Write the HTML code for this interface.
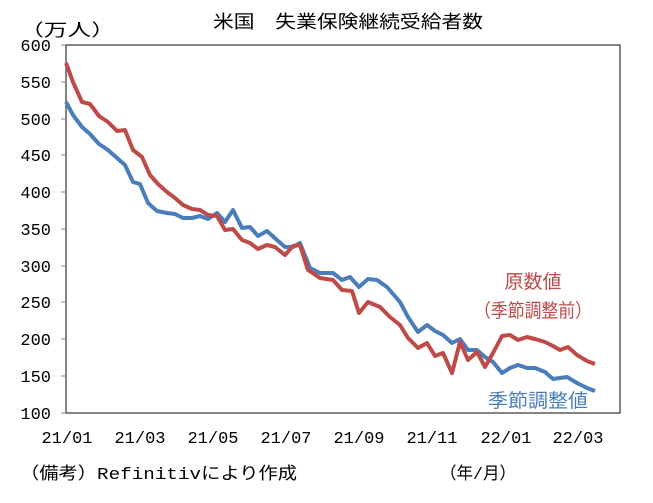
<!DOCTYPE html>
<html><head><meta charset="utf-8"><style>
body{margin:0;background:#fff;}
svg text{font-family:"Liberation Mono","Noto Sans CJK JP",monospace;}
</style></head><body>
<svg width="653" height="498" viewBox="0 0 653 498" xmlns="http://www.w3.org/2000/svg">
<rect width="653" height="498" fill="#fff"/>
<text x="213" y="28" font-size="18" textLength="270" lengthAdjust="spacingAndGlyphs" fill="#000">米国　失業保険継続受給者数</text>
<text x="20" y="36" font-size="17" textLength="95" lengthAdjust="spacingAndGlyphs" fill="#000">（万人）</text>
<rect x="66" y="45" width="554" height="368" fill="none" stroke="#333" stroke-width="1.2"/>
<g stroke="#888" stroke-width="1">
<line x1="61" y1="45" x2="66" y2="45"/><line x1="61" y1="82" x2="66" y2="82"/><line x1="61" y1="119" x2="66" y2="119"/><line x1="61" y1="155" x2="66" y2="155"/><line x1="61" y1="192" x2="66" y2="192"/><line x1="61" y1="229" x2="66" y2="229"/><line x1="61" y1="266" x2="66" y2="266"/><line x1="61" y1="302" x2="66" y2="302"/><line x1="61" y1="339" x2="66" y2="339"/><line x1="61" y1="376" x2="66" y2="376"/><line x1="61" y1="413" x2="66" y2="413"/>
</g>
<g font-size="17" text-anchor="end" fill="#000">
<text x="51" y="51">600</text><text x="51" y="88">550</text><text x="51" y="125">500</text><text x="51" y="161">450</text><text x="51" y="198">400</text><text x="51" y="235">350</text><text x="51" y="272">300</text><text x="51" y="308">250</text><text x="51" y="345">200</text><text x="51" y="382">150</text><text x="51" y="419">100</text>
</g>
<g font-size="17" text-anchor="middle" fill="#000">
<text x="67" y="443">21/01</text><text x="140" y="443">21/03</text><text x="213" y="443">21/05</text><text x="286" y="443">21/07</text><text x="359" y="443">21/09</text><text x="432" y="443">21/11</text><text x="506" y="443">22/01</text><text x="578" y="443">22/03</text>
</g>
<text x="20" y="479" font-size="17" textLength="277" lengthAdjust="spacingAndGlyphs" fill="#000">（備考）Refinitivにより作成</text>
<text x="440" y="479" font-size="17" textLength="76" lengthAdjust="spacingAndGlyphs" fill="#000">（年/月）</text>
<polyline fill="none" stroke="#4a7ebb" stroke-width="4" stroke-linejoin="round" points="66,102 73,115 82,127 90,134 99,144 108,150 117,158 125,165 133,182 140,184 148,203 157,211 167,213 175,214 183,218 192,218 200,216 208,219 217,213 225,222 233,210 242,228 250,227 258,236 267,231 277,240 285,247 293,247 300,243 310,268 320,273 333,273 342,280 350,277 359,287 368,279 377,280 387,287 400,302 408,317 418,332 427,325 435,331 443,335 452,343 460,339 468,350 477,350 485,357 493,362 502,373 510,368 518,365 527,368 535,368 545,372 553,379 567,377 577,383 587,388 595,391"/>
<polyline fill="none" stroke="#be4b48" stroke-width="4" stroke-linejoin="round" points="66,63 73,82 82,102 90,104 99,116 108,122 117,131 125,130 133,150 142,157 150,175 158,184 167,192 175,198 183,205 192,209 200,210 208,215 217,216 225,230 233,229 242,240 250,243 258,249 267,245 275,247 285,255 293,246 300,245 308,270 320,278 333,280 342,290 352,291 359,313 368,302 380,307 390,317 400,325 408,338 418,348 427,343 435,356 443,353 452,373 460,342 468,360 477,352 485,367 493,353 502,336 510,335 518,340 527,337 535,339 545,342 553,346 560,350 568,347 577,355 587,361 595,364"/>
<text x="533" y="288" font-size="19" text-anchor="middle" fill="#be4b48">原数値</text>
<text x="474" y="317" font-size="19" textLength="118" lengthAdjust="spacingAndGlyphs" fill="#be4b48">（季節調整前）</text>
<text x="488" y="407" font-size="19" textLength="100" lengthAdjust="spacingAndGlyphs" fill="#4a7ebb">季節調整値</text>
</svg>
</body></html>
